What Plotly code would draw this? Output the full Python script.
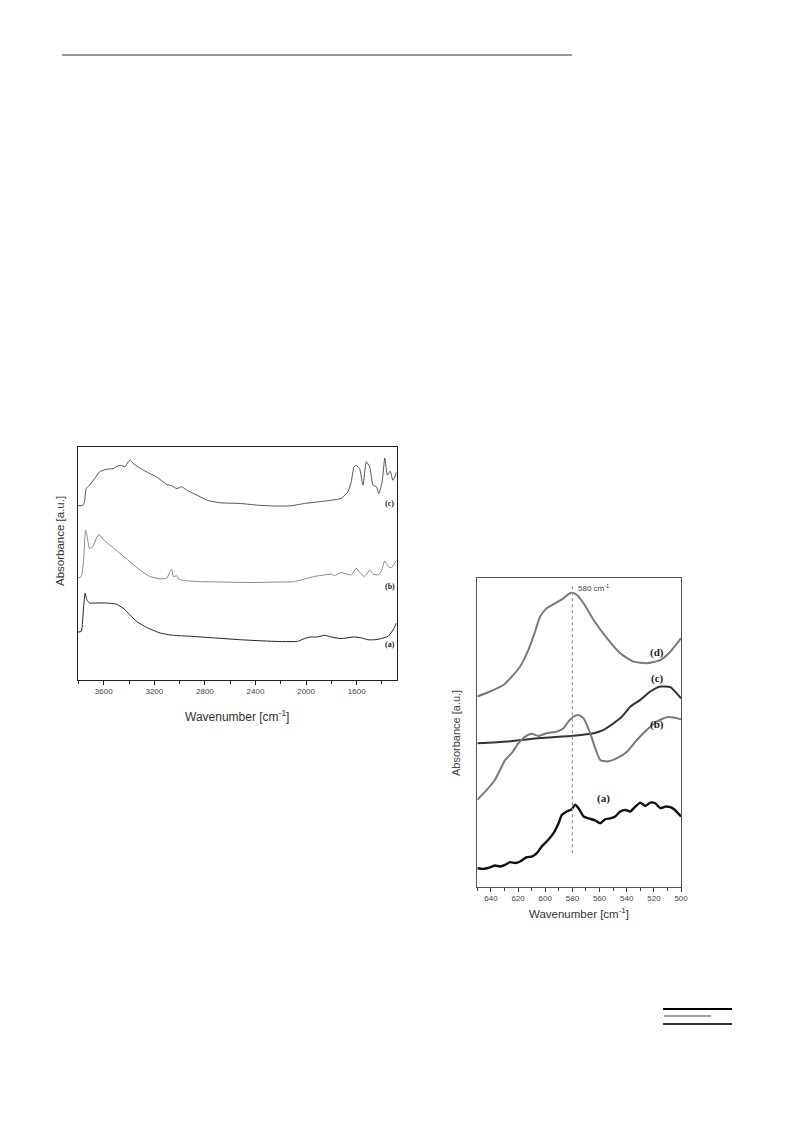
import plotly.graph_objects as go

# ---------------- Left chart (FTIR, 3800-1285 cm-1) ----------------
ir_c_wn = [3805, 3765, 3752, 3739, 3712, 3672, 3633, 3580, 3526, 3487, 3460, 3434, 3407, 3389, 3367,
           3328, 3261, 3182, 3102, 3062, 3022, 2983, 2943, 2863, 2784, 2678, 2518, 2386, 2253, 2121,
           2014, 1908, 1802, 1723, 1670, 1643, 1622, 1603, 1577, 1550, 1524, 1497, 1471, 1444, 1425,
           1399, 1378, 1357, 1335, 1314, 1298, 1285]
ir_c_val = [74.7, 74.9, 76.4, 82.1, 83.6, 86.4, 89.3, 90.4, 90.7, 91.9, 92.1, 91.4, 93.6, 94.3, 92.9,
            91.4, 89.3, 87.1, 83.9, 83.3, 82.1, 82.9, 81.4, 79.3, 77.1, 76.0, 75.7, 75.0, 74.6, 74.7,
            75.7, 76.4, 77.1, 77.9, 80.7, 85.0, 91.4, 92.1, 90.7, 83.6, 93.6, 91.4, 83.6, 82.9, 80.0,
            85.0, 95.3, 87.9, 89.6, 85.7, 87.1, 89.3]

ir_b_wn = [3805, 3778, 3760, 3744, 3733, 3712, 3686, 3659, 3638, 3606, 3553, 3473, 3394, 3314, 3235,
           3155, 3102, 3076, 3062, 3049, 3022, 3009, 2969, 2837, 2651, 2412, 2253, 2094, 1988, 1935,
           1855, 1802, 1776, 1723, 1643, 1603, 1577, 1537, 1497, 1471, 1431, 1404, 1378, 1351, 1325, 1285]
ir_b_val = [43.6, 44.3, 50.7, 64.3, 62.1, 56.4, 57.1, 60.7, 62.4, 60.4, 57.9, 54.3, 50.7, 47.1, 44.3,
            43.3, 43.6, 46.4, 47.3, 44.3, 44.6, 43.3, 42.6, 42.1, 41.9, 41.7, 41.9, 42.1, 43.6, 44.3,
            45.0, 45.3, 44.7, 46.0, 45.0, 47.9, 46.1, 44.3, 47.1, 45.3, 45.0, 46.7, 51.0, 48.6, 48.1, 51.4]

ir_a_wn = [3805, 3778, 3760, 3747, 3733, 3712, 3659, 3580, 3500, 3447, 3394, 3341, 3261, 3155, 3049,
           2916, 2731, 2518, 2253, 2068, 2014, 1961, 1908, 1855, 1802, 1723, 1617, 1564, 1511, 1457,
           1404, 1351, 1312, 1285]
ir_a_val = [20.4, 20.7, 30.7, 37.1, 34.3, 32.9, 32.9, 32.9, 32.4, 30.7, 27.9, 25.0, 22.4, 20.0, 19.0,
            18.6, 17.9, 17.1, 16.4, 16.4, 17.6, 18.3, 18.3, 19.0, 18.3, 17.6, 18.3, 17.9, 17.1, 17.1,
            17.6, 18.6, 21.4, 24.3]

ir_labels = ["(c)", "(b)", "(a)"]
ir_label_wn = [1340, 1340, 1340]
ir_label_val = [75.7, 40.0, 15.0]

# ---------------- Right chart (650-500 cm-1) ----------------
fe_d_wn = [650, 640.7, 630.8, 624.7, 618.5, 612.4, 607.5, 603.8, 598.9, 592.7, 586.6, 582.9, 580.4,
           576.7, 571.8, 564.4, 554.6, 544.8, 535.0, 525.1, 515.3, 507.9, 500]
fe_d_val = [61.6, 63.2, 65.3, 68.0, 71.3, 76.7, 82.6, 87.5, 90.2, 91.8, 93.4, 94.8, 95.2,
            94.5, 91.8, 86.4, 80.5, 75.6, 72.9, 72.4, 73.4, 76.1, 80.5]

fe_c_wn = [650, 628.4, 603.8, 579.2, 564.4, 557.0, 549.7, 543.5, 537.4, 530.0, 522.6, 515.3, 507.9, 500]
fe_c_val = [46.4, 47.0, 48.1, 48.9, 49.7, 50.8, 52.9, 55.1, 58.3, 60.5, 63.2, 64.8, 64.6, 61.0]

fe_b_wn = [650, 643.1, 637.0, 633.3, 629.6, 624.7, 619.8, 614.8, 609.9, 605.0, 598.9, 591.5, 586.6,
           582.9, 579.2, 575.5, 571.8, 566.9, 563.2, 559.5, 554.6, 547.2, 539.8, 532.5, 525.1, 517.7,
           510.3, 505.4, 500]
fe_b_val = [28.1, 31.3, 34.6, 37.8, 41.0, 43.2, 46.4, 48.6, 49.5, 48.8, 49.7, 50.2, 51.3,
            53.5, 55.1, 55.6, 54.5, 49.7, 44.8, 41.0, 40.5, 41.6, 43.7, 47.5, 50.8, 53.5,
            54.9, 54.8, 54.2]

fe_a_wn = [650, 645.6, 640.7, 637.0, 633.3, 629.6, 625.9, 622.2, 618.5, 613.6, 609.9, 606.2, 602.5,
           598.9, 593.9, 590.2, 587.8, 584.1, 580.4, 578.0, 575.5, 571.8, 568.1, 563.2, 559.5, 555.8,
           552.1, 548.4, 544.8, 541.1, 537.4, 533.7, 530.0, 526.3, 522.6, 519.0, 515.3, 511.6, 507.9,
           505.4, 500]
fe_a_val = [5.9, 5.7, 6.2, 6.8, 6.5, 7.0, 7.9, 7.6, 8.1, 9.5, 9.7, 10.8, 13.0,
            14.6, 17.3, 20.5, 23.2, 24.3, 25.1, 26.5, 25.4, 22.7, 22.1, 21.4, 20.5, 21.8,
            22.1, 22.7, 24.3, 24.8, 24.3, 25.9, 27.2, 26.1, 27.2, 27.0, 25.4, 25.9, 25.7,
            25.1, 22.7]

fe_labels = ["(d)", "(c)", "(b)", "(a)"]
fe_label_wn = [517.7, 517.7, 517.7, 557.0]
fe_label_val = [75.9, 67.5, 52.4, 28.6]

marker_wn = 580
marker_text = "580 cm<sup>-1</sup>"
marker_top, marker_bottom = 98.0, 10.8

# ---------------- Figure ----------------
W, H = 793, 1121
SX = 1.009  # small horizontal compensation
fig = go.Figure()

def px_x(p):
    return p * SX / W

def px_y(p):
    return 1 - p / H

left_dom_x = [px_x(77.8), px_x(396.5)]
left_dom_y = [px_y(679.5), px_y(447)]
right_dom_x = [px_x(477.3), px_x(681)]
right_dom_y = [px_y(886.5), px_y(578)]

sp = dict(shape="spline", smoothing=0.5)
for wn, val, col, w in [(ir_c_wn, ir_c_val, "#555555", 1.0),
                        (ir_b_wn, ir_b_val, "#8a8a8a", 1.0),
                        (ir_a_wn, ir_a_val, "#222222", 1.0)]:
    fig.add_trace(go.Scatter(x=wn, y=val, mode="lines", line=dict(color=col, width=w, **sp),
                             xaxis="x", yaxis="y", showlegend=False, hoverinfo="skip"))

for wn, val, col, w in [(fe_d_wn, fe_d_val, "#7a7a7a", 2.0),
                        (fe_c_wn, fe_c_val, "#333333", 2.0),
                        (fe_b_wn, fe_b_val, "#7a7a7a", 2.0),
                        (fe_a_wn, fe_a_val, "#111111", 2.4)]:
    fig.add_trace(go.Scatter(x=wn, y=val, mode="lines", line=dict(color=col, width=w, **sp),
                             xaxis="x2", yaxis="y2", showlegend=False, hoverinfo="skip"))

tickfont = dict(family="Arial, Liberation Sans, sans-serif", size=8, color="#444444")

fig.update_layout(
    width=W, height=H, margin=dict(l=0, r=0, t=0, b=0),
    paper_bgcolor="white", plot_bgcolor="white", showlegend=False,
    xaxis=dict(domain=left_dom_x, anchor="y", range=[3805, 1285], tick0=1600, dtick=400,
               ticks="outside", ticklen=4, tickcolor="#222", showgrid=False, zeroline=False,
               showline=True, linecolor="#222", linewidth=1, mirror=True, tickfont=tickfont,
               minor=dict(ticks="outside", ticklen=3, dtick=200, tick0=1600, tickcolor="#222")),
    yaxis=dict(domain=left_dom_y, anchor="x", range=[0, 100], showticklabels=False, ticks="",
               showgrid=False, zeroline=False, showline=True, linecolor="#222", linewidth=1, mirror=True),
    xaxis2=dict(domain=right_dom_x, anchor="y2", range=[650, 500], tick0=500, dtick=20,
                ticks="outside", ticklen=4, tickcolor="#444", showgrid=False, zeroline=False,
                showline=True, linecolor="#555", linewidth=1.2, mirror=True, tickfont=tickfont,
                minor=dict(ticks="outside", ticklen=3, dtick=10, tick0=500, tickcolor="#444")),
    yaxis2=dict(domain=right_dom_y, anchor="x2", range=[0, 100], showticklabels=False, ticks="",
                showgrid=False, zeroline=False, showline=True, linecolor="#555", linewidth=1.2, mirror=True),
)

C = dict(xanchor="center", yanchor="middle", showarrow=False)
annos = []
lab_font = dict(family="Liberation Serif, Times New Roman, serif", size=8, color="#222")
for t, x, y in zip(ir_labels, ir_label_wn, ir_label_val):
    annos.append(dict(text="<b>%s</b>" % t, x=x, y=y, xref="x", yref="y", font=lab_font, **C))
lab_font2 = dict(family="Liberation Serif, Times New Roman, serif", size=11, color="#222")
for t, x, y in zip(fe_labels, fe_label_wn, fe_label_val):
    annos.append(dict(text="<b>%s</b>" % t, x=x, y=y, xref="x2", yref="y2", font=lab_font2, **C))
annos.append(dict(text=marker_text, x=marker_wn - 2.5, y=96.8, xref="x2", yref="y2", showarrow=False,
                  xanchor="left", yanchor="middle",
                  font=dict(family="Liberation Sans, Arial, sans-serif", size=8, color="#444")))

annos.append(dict(text="Wavenumber [cm<sup>-1</sup>]", x=px_x(237), y=px_y(716), xref="paper", yref="paper",
                  font=dict(family="Arial, Liberation Sans, sans-serif", size=12, color="#333"), **C))
annos.append(dict(text="Absorbance [a.u.]", x=px_x(60), y=px_y(541), xref="paper", yref="paper",
                  textangle=-90, font=dict(family="Arial, Liberation Sans, sans-serif", size=11.5, color="#333"), **C))
annos.append(dict(text="Wavenumber [cm<sup>-1</sup>]", x=px_x(579), y=px_y(913), xref="paper", yref="paper",
                  font=dict(family="Arial, Liberation Sans, sans-serif", size=11.5, color="#333"), **C))
annos.append(dict(text="Absorbance [a.u.]", x=px_x(456), y=px_y(733), xref="paper", yref="paper",
                  textangle=-90, font=dict(family="Arial, Liberation Sans, sans-serif", size=11, color="#444"), **C))
fig.update_layout(annotations=annos)

shapes = [
    dict(type="line", xref="x2", yref="y2", x0=marker_wn, x1=marker_wn, y0=marker_bottom, y1=marker_top,
         line=dict(color="#999999", width=1.2, dash="dot")),
    dict(type="line", xref="paper", yref="paper", x0=px_x(62), x1=px_x(572), y0=px_y(55), y1=px_y(55),
         line=dict(color="#777777", width=1.5)),
    dict(type="line", xref="paper", yref="paper", x0=px_x(663), x1=px_x(732), y0=px_y(1009), y1=px_y(1009),
         line=dict(color="#000000", width=2)),
    dict(type="line", xref="paper", yref="paper", x0=px_x(664), x1=px_x(711), y0=px_y(1016), y1=px_y(1016),
         line=dict(color="#444444", width=1)),
    dict(type="line", xref="paper", yref="paper", x0=px_x(663), x1=px_x(732), y0=px_y(1024), y1=px_y(1024),
         line=dict(color="#333333", width=2)),
]
fig.update_layout(shapes=shapes)

fig.write_html("out.html", config={"displayModeBar": False},
               post_script="document.body.style.margin='0';document.body.style.overflow='hidden';")
